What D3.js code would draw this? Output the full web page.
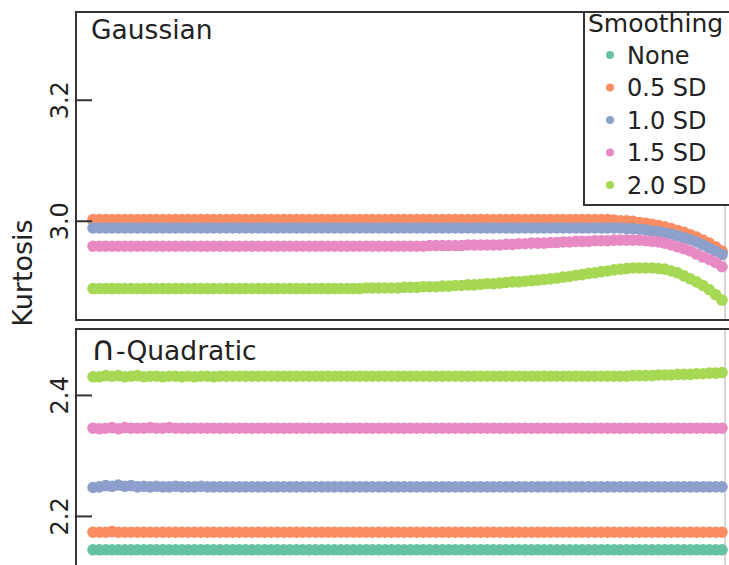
<!DOCTYPE html>
<html>
<head>
<meta charset="utf-8">
<script src="https://cdn.jsdelivr.net/npm/d3@7"></script>
<style>
  html, body { margin: 0; padding: 0; background: #fff; }
  svg { display: block; font-family: "DejaVu Sans", sans-serif; }
</style>
</head>
<body>
<svg id="chart" width="729" height="565"></svg>
<script>
// Smoothing levels and their colours
const smoothingLabels = ["None", "0.5 SD", "1.0 SD", "1.5 SD", "2.0 SD"];
const smoothingColors = ["#66c2a5", "#fc8d62", "#8da0cb", "#e78ac3", "#a6d854"];

// Kurtosis per sample position, Gaussian kernel
const gaussNone = [
  3.000,3.000,3.000,3.000,3.000,3.000,3.000,3.000,3.000,3.000,
  3.000,3.000,3.000,3.000,3.000,3.000,3.000,3.000,3.000,3.000,
  3.000,3.000,3.000,3.000,3.000,3.000,3.000,3.000,3.000,3.000,
  3.000,3.000,3.000,3.000,3.000,3.000,3.000,3.000,3.000,3.000,
  3.000,3.000,3.000,3.000,3.000,3.000,3.000,3.000,3.000,3.000,
  3.000,3.000,3.000,3.000,3.000,3.000,3.000,3.000,3.000,3.000,
  3.000,3.000,3.000,3.000,3.000,3.000,3.000,3.000,3.000,3.000,
  3.000,3.000,3.000,3.000,3.000,3.000,3.000,3.000,3.000,3.000,
  3.000,3.000,2.999,2.998,2.998,2.997,2.995,2.994,2.992,2.990,
  2.988,2.985,2.982,2.979,2.975,2.971,2.966,2.961,2.955,2.948
];
const gauss05 = [
  3.002,3.002,3.002,3.002,3.002,3.002,3.002,3.002,3.002,3.002,
  3.002,3.002,3.002,3.002,3.002,3.002,3.002,3.002,3.002,3.002,
  3.002,3.002,3.002,3.002,3.002,3.002,3.002,3.002,3.002,3.002,
  3.002,3.002,3.002,3.002,3.002,3.002,3.002,3.002,3.002,3.002,
  3.002,3.002,3.002,3.002,3.002,3.002,3.002,3.002,3.002,3.002,
  3.002,3.002,3.002,3.002,3.002,3.002,3.002,3.002,3.002,3.002,
  3.002,3.002,3.002,3.002,3.002,3.002,3.002,3.002,3.002,3.002,
  3.002,3.002,3.002,3.002,3.002,3.002,3.002,3.002,3.002,3.002,
  3.002,3.002,3.001,3.000,3.000,2.999,2.997,2.996,2.994,2.992,
  2.990,2.987,2.984,2.981,2.977,2.973,2.968,2.963,2.957,2.950
];
const gauss10 = [
  2.988,2.988,2.988,2.988,2.988,2.988,2.988,2.988,2.988,2.988,
  2.988,2.988,2.988,2.988,2.988,2.988,2.988,2.988,2.988,2.988,
  2.988,2.988,2.988,2.988,2.988,2.988,2.988,2.988,2.988,2.988,
  2.988,2.988,2.988,2.988,2.988,2.988,2.988,2.988,2.988,2.988,
  2.988,2.988,2.988,2.988,2.988,2.988,2.988,2.988,2.988,2.988,
  2.988,2.988,2.988,2.988,2.988,2.988,2.988,2.988,2.988,2.988,
  2.988,2.988,2.988,2.988,2.988,2.988,2.988,2.988,2.988,2.988,
  2.988,2.988,2.988,2.988,2.988,2.988,2.988,2.988,2.988,2.988,
  2.988,2.988,2.988,2.988,2.987,2.987,2.986,2.985,2.983,2.982,
  2.980,2.978,2.975,2.972,2.969,2.965,2.960,2.955,2.950,2.944
];
const gauss15 = [
  2.958,2.958,2.958,2.958,2.958,2.958,2.958,2.958,2.958,2.958,
  2.958,2.958,2.958,2.958,2.958,2.958,2.958,2.958,2.958,2.958,
  2.958,2.958,2.958,2.958,2.958,2.958,2.958,2.958,2.958,2.958,
  2.958,2.958,2.958,2.958,2.958,2.958,2.958,2.958,2.958,2.958,
  2.958,2.958,2.958,2.958,2.958,2.958,2.958,2.958,2.958,2.958,
  2.958,2.958,2.958,2.959,2.959,2.959,2.959,2.959,2.959,2.960,
  2.960,2.960,2.960,2.960,2.960,2.961,2.961,2.962,2.962,2.963,
  2.963,2.963,2.964,2.964,2.965,2.965,2.966,2.966,2.966,2.967,
  2.967,2.967,2.968,2.968,2.968,2.968,2.968,2.967,2.966,2.965,
  2.963,2.960,2.957,2.954,2.950,2.945,2.940,2.936,2.931,2.924
];
const gauss20 = [
  2.888,2.888,2.888,2.888,2.888,2.888,2.888,2.888,2.888,2.888,
  2.888,2.888,2.888,2.888,2.888,2.888,2.888,2.888,2.888,2.888,
  2.888,2.888,2.888,2.888,2.888,2.888,2.888,2.888,2.888,2.888,
  2.888,2.888,2.888,2.888,2.888,2.888,2.888,2.888,2.888,2.888,
  2.888,2.888,2.888,2.889,2.889,2.889,2.889,2.889,2.889,2.890,
  2.890,2.890,2.891,2.891,2.891,2.892,2.892,2.893,2.893,2.894,
  2.894,2.895,2.896,2.896,2.897,2.898,2.899,2.899,2.900,2.901,
  2.902,2.903,2.904,2.905,2.907,2.908,2.910,2.911,2.913,2.914,
  2.916,2.917,2.919,2.920,2.921,2.922,2.922,2.922,2.922,2.921,
  2.920,2.917,2.914,2.909,2.904,2.899,2.893,2.886,2.878,2.869
];

// Kurtosis per sample position, ∩-quadratic kernel
const quadNone = [
  2.144,2.144,2.144,2.144,2.144,2.144,2.144,2.144,2.144,2.144,
  2.144,2.144,2.144,2.144,2.144,2.144,2.144,2.144,2.144,2.144,
  2.144,2.144,2.144,2.144,2.144,2.144,2.144,2.144,2.144,2.144,
  2.144,2.144,2.144,2.144,2.144,2.144,2.144,2.144,2.144,2.144,
  2.144,2.144,2.144,2.144,2.144,2.144,2.144,2.144,2.144,2.144,
  2.144,2.144,2.144,2.144,2.144,2.144,2.144,2.144,2.144,2.144,
  2.144,2.144,2.144,2.144,2.144,2.144,2.144,2.144,2.144,2.144,
  2.144,2.144,2.144,2.144,2.144,2.144,2.144,2.144,2.144,2.144,
  2.144,2.144,2.144,2.144,2.144,2.144,2.144,2.144,2.144,2.144,
  2.144,2.144,2.144,2.144,2.144,2.144,2.144,2.144,2.144,2.144
];
const quad05 = [
  2.173,2.173,2.173,2.174,2.173,2.173,2.173,2.173,2.173,2.173,
  2.173,2.173,2.173,2.173,2.173,2.173,2.173,2.173,2.173,2.173,
  2.173,2.173,2.173,2.173,2.173,2.173,2.173,2.173,2.173,2.173,
  2.173,2.173,2.173,2.173,2.173,2.173,2.173,2.173,2.173,2.173,
  2.173,2.173,2.173,2.173,2.173,2.173,2.173,2.173,2.173,2.173,
  2.173,2.173,2.173,2.173,2.173,2.173,2.173,2.173,2.173,2.173,
  2.173,2.173,2.173,2.173,2.173,2.173,2.173,2.173,2.173,2.173,
  2.173,2.173,2.173,2.173,2.173,2.173,2.173,2.173,2.173,2.173,
  2.173,2.173,2.173,2.173,2.173,2.173,2.173,2.173,2.173,2.173,
  2.173,2.173,2.173,2.173,2.173,2.173,2.173,2.173,2.173,2.173
];
const quad10 = [
  2.247,2.248,2.250,2.249,2.251,2.249,2.250,2.248,2.249,2.248,
  2.249,2.248,2.248,2.249,2.248,2.248,2.248,2.249,2.248,2.248,
  2.248,2.248,2.248,2.248,2.248,2.248,2.248,2.248,2.248,2.248,
  2.248,2.248,2.248,2.248,2.248,2.248,2.248,2.248,2.248,2.248,
  2.248,2.248,2.248,2.248,2.248,2.248,2.248,2.248,2.248,2.248,
  2.248,2.248,2.248,2.248,2.248,2.248,2.248,2.248,2.248,2.248,
  2.248,2.248,2.248,2.248,2.248,2.248,2.248,2.248,2.248,2.248,
  2.248,2.248,2.248,2.248,2.248,2.248,2.248,2.248,2.248,2.248,
  2.248,2.248,2.248,2.248,2.248,2.248,2.248,2.248,2.248,2.248,
  2.248,2.248,2.248,2.248,2.248,2.248,2.248,2.248,2.248,2.248
];
const quad15 = [
  2.345,2.344,2.345,2.346,2.344,2.346,2.345,2.345,2.345,2.346,
  2.345,2.345,2.346,2.345,2.345,2.345,2.345,2.345,2.345,2.345,
  2.345,2.345,2.345,2.345,2.345,2.345,2.345,2.345,2.345,2.345,
  2.345,2.345,2.345,2.345,2.345,2.345,2.345,2.345,2.345,2.345,
  2.345,2.345,2.345,2.345,2.345,2.345,2.345,2.345,2.345,2.345,
  2.345,2.345,2.345,2.345,2.345,2.345,2.345,2.345,2.345,2.345,
  2.345,2.345,2.345,2.345,2.345,2.345,2.345,2.345,2.345,2.345,
  2.345,2.345,2.345,2.345,2.345,2.345,2.345,2.345,2.345,2.345,
  2.345,2.345,2.345,2.345,2.345,2.345,2.345,2.345,2.345,2.345,
  2.345,2.345,2.345,2.345,2.345,2.345,2.345,2.345,2.345,2.345
];
const quad20 = [
  2.430,2.430,2.432,2.431,2.432,2.430,2.431,2.432,2.430,2.431,
  2.431,2.430,2.431,2.431,2.430,2.431,2.430,2.431,2.431,2.430,
  2.431,2.431,2.431,2.431,2.431,2.431,2.431,2.431,2.431,2.431,
  2.431,2.431,2.431,2.431,2.431,2.431,2.431,2.431,2.431,2.431,
  2.431,2.431,2.431,2.431,2.431,2.431,2.431,2.431,2.431,2.431,
  2.431,2.431,2.431,2.431,2.431,2.431,2.431,2.431,2.431,2.431,
  2.431,2.431,2.431,2.431,2.431,2.431,2.431,2.431,2.431,2.431,
  2.431,2.431,2.431,2.431,2.431,2.431,2.431,2.431,2.431,2.431,
  2.431,2.431,2.431,2.431,2.431,2.432,2.432,2.432,2.432,2.433,
  2.433,2.433,2.434,2.434,2.434,2.435,2.435,2.436,2.436,2.437
];

const gaussTicks = [3.0, 3.2];
const quadTicks = [2.2, 2.4];

const panels = [
  { title: "Gaussian", series: [gaussNone, gauss05, gauss10, gauss15, gauss20],
    domain: [2.836, 3.345], ticks: gaussTicks, top: 12, bottom: 320, titleDy: 27 },
  { title: "\u2229-Quadratic", series: [quadNone, quad05, quad10, quad15, quad20],
    domain: [2.061, 2.509], ticks: quadTicks, top: 329, bottom: 600, titleDy: 31 }
];

const svg = d3.select("#chart");
const frameLeft = 76, frameRight = 800;
const ink = "#222";

const x = d3.scaleLinear().domain([0, gaussNone.length - 1]).range([93, 722]);

panels.forEach((p, pi) => {
  const y = d3.scaleLinear().domain(p.domain).range([p.bottom, p.top]);
  const g = svg.append("g");

  g.append("clipPath").attr("id", "clip" + pi)
    .append("rect")
    .attr("x", frameLeft).attr("y", p.top)
    .attr("width", frameRight - frameLeft).attr("height", p.bottom - p.top);

  // faint right-hand guide
  g.append("line")
    .attr("x1", 725).attr("x2", 725)
    .attr("y1", p.top).attr("y2", p.bottom)
    .attr("stroke", "#c8c8c8").attr("stroke-width", 1.5);

  const marks = g.append("g").attr("clip-path", `url(#clip${pi})`);
  p.series.forEach((vals, si) => {
    marks.append("g")
      .selectAll("circle")
      .data(vals)
      .join("circle")
      .attr("cx", (d, i) => x(i))
      .attr("cy", d => y(d))
      .attr("r", 5.8)
      .attr("fill", smoothingColors[si]);
  });

  // panel frame
  g.append("rect")
    .attr("x", frameLeft).attr("y", p.top)
    .attr("width", frameRight - frameLeft).attr("height", p.bottom - p.top)
    .attr("fill", "none").attr("stroke", "#333").attr("stroke-width", 2);

  // y axis: inward ticks, rotated labels
  const axis = d3.axisLeft(y).tickValues(p.ticks).tickFormat(d3.format(".1f"))
    .tickSizeInner(-16).tickSizeOuter(0);
  const ag = g.append("g").attr("transform", `translate(${frameLeft},0)`).call(axis);
  ag.select(".domain").remove();
  ag.selectAll(".tick line").attr("stroke", "#333").attr("stroke-width", 2);
  ag.selectAll(".tick text")
    .attr("x", 0).attr("y", 0).attr("dy", 0)
    .attr("transform", "translate(-8,0) rotate(-90)")
    .attr("text-anchor", "middle")
    .attr("fill", ink)
    .style("font-size", "24px")
    .style("font-family", "DejaVu Sans, sans-serif");

  // panel title; the leading ∩ is drawn at cap height
  const t = g.append("text")
    .attr("x", 91).attr("y", p.top + p.titleDy)
    .attr("fill", ink)
    .style("font-size", "26.5px");
  const first = p.title.charAt(0);
  if (first === "\u2229") {
    t.append("tspan").style("font-size", "34px").text(first);
    t.append("tspan").text(p.title.slice(1));
  } else {
    t.text(p.title);
  }
});

// y-axis title
svg.append("text")
  .attr("transform", "translate(32,273) rotate(-90)")
  .attr("text-anchor", "middle")
  .attr("fill", ink)
  .style("font-size", "27px")
  .text("Kurtosis");

// legend
const lg = svg.append("g");
lg.append("rect")
  .attr("x", 584).attr("y", 12).attr("width", 220).attr("height", 193)
  .attr("fill", "#fff").attr("stroke", "#333").attr("stroke-width", 2);
lg.append("text")
  .attr("x", 588).attr("y", 32)
  .attr("fill", ink).style("font-size", "25px")
  .text("Smoothing");
smoothingLabels.forEach((lab, i) => {
  const cy = 55 + i * 32.5;
  lg.append("circle").attr("cx", 610).attr("cy", cy).attr("r", 4).attr("fill", smoothingColors[i]);
  lg.append("text")
    .attr("x", 627).attr("y", cy + 8.5)
    .attr("fill", ink).style("font-size", "24px")
    .text(lab);
});
</script>
</body>
</html>
